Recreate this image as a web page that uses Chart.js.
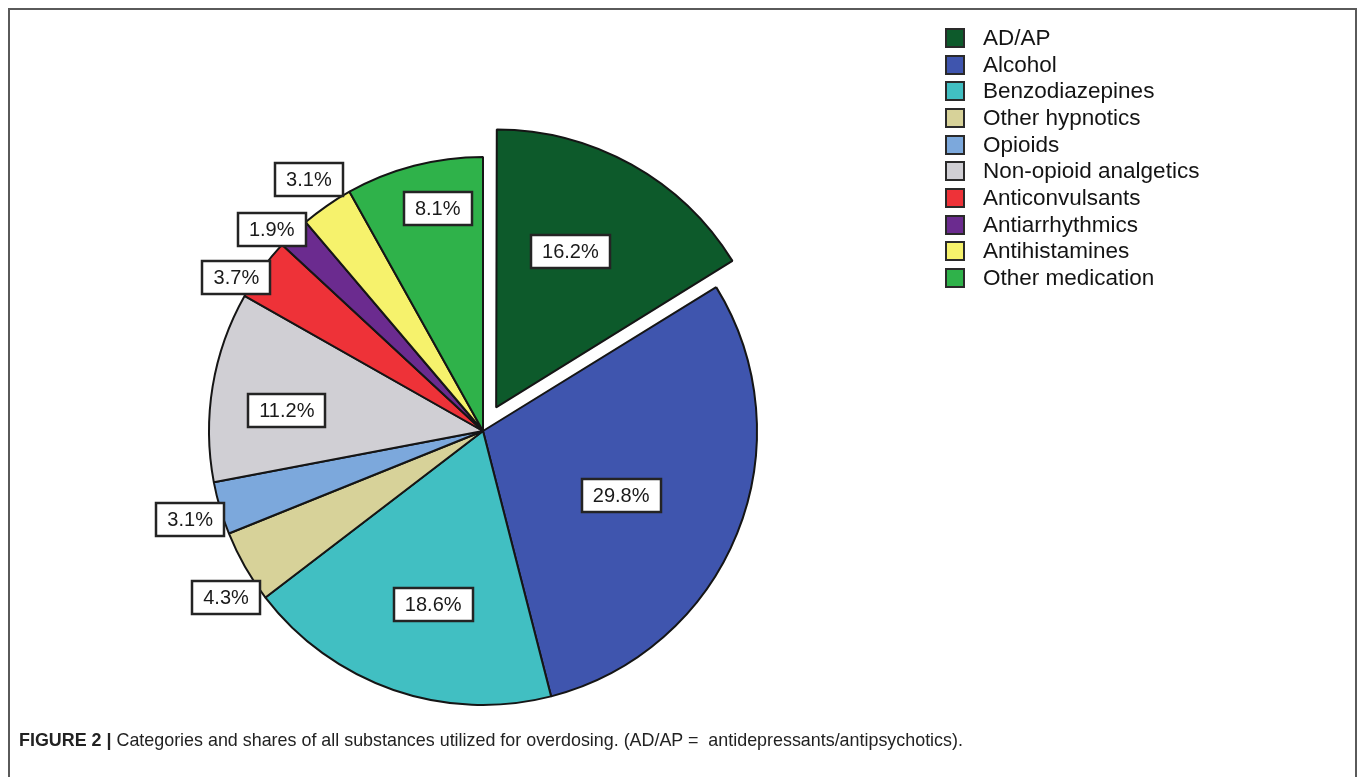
<!DOCTYPE html>
<html>
<head>
<meta charset="utf-8">
<title>Substances utilized for overdosing</title>
<script src="https://cdn.jsdelivr.net/npm/chart.js"></script>
<style>
  html, body { margin: 0; padding: 0; background: #fff; width: 1357px; height: 777px; overflow: hidden; }
  body { position: relative; font-family: "Liberation Sans", Arial, sans-serif; }
  .frame { position: absolute; left: 8px; top: 8px; width: 1349px; height: 800px;
           border: 2px solid #5a5a5a; box-sizing: border-box; }
  .pie-box { position: absolute; left: 0; top: 0; width: 966px; height: 777px; }
  .legend { position: absolute; left: 945px; top: 28px; }
  .legend .row { position: absolute; left: 0; height: 20px; white-space: nowrap; }
  .legend .sw { position: absolute; left: 0; top: 0; width: 20px; height: 20px;
                border: 2px solid #2a2a2a; box-sizing: border-box; }
  .legend .txt { position: absolute; left: 38px; top: -3px; font-size: 22.5px; line-height: 26px; color: #141414; }
  .caption { position: absolute; left: 19px; top: 730px; font-size: 17.9px; color: #222; white-space: nowrap; }
  .caption b { font-weight: bold; }
</style>
</head>
<body>
<div class="frame"></div>
<div class="pie-box"><canvas id="pie"></canvas></div>
<div class="legend" id="legend"></div>
<div class="caption"><b>FIGURE 2 |</b> Categories and shares of all substances utilized for overdosing. (AD/AP =&nbsp; antidepressants/antipsychotics).</div>

<script>
// substance categories and their share of all cases (%)
const categories = ['AD/AP', 'Alcohol', 'Benzodiazepines', 'Other hypnotics', 'Opioids',
  'Non-opioid analgetics', 'Anticonvulsants', 'Antiarrhythmics', 'Antihistamines', 'Other medication'];
const shares = [16.2, 29.8, 18.6, 4.3, 3.1, 11.2, 3.7, 1.9, 3.1, 8.1];

const colors = ['#0d5a2b', '#3f55ae', '#41bfc2', '#d7d299', '#7ca8dc',
  '#d0cfd4', '#ee3238', '#6b2b8f', '#f6f26c', '#2fb24a'];

// AD/AP slice is pulled out of the pie
const explodePx = [27, 0, 0, 0, 0, 0, 0, 0, 0, 0];

// where each value box sits: [fraction of radius, turn from slice middle in degrees]
const labelPlace = [[0.63, -3.7], [0.557, 3.2], [0.66, -3.1], [1.117, -3.2], [1.117, -0.5],
  [0.72, -3.3], [1.06, -4.3], [1.066, -2.6], [1.115, 0], [0.83, 3.1]];

// legend
const legend = document.getElementById('legend');
categories.forEach((name, i) => {
  const row = document.createElement('div');
  row.className = 'row';
  row.style.top = (i * 26.67) + 'px';
  row.innerHTML = '<span class="sw" style="background:' + colors[i] + '"></span><span class="txt">' + name + '</span>';
  legend.appendChild(row);
});

const boxLabels = {
  id: 'boxLabels',
  afterDatasetsDraw(chart) {
    const ctx = chart.ctx;
    const meta = chart.getDatasetMeta(0);
    ctx.save();
    ctx.font = '20px "Liberation Sans", Arial, sans-serif';
    ctx.textAlign = 'center';
    ctx.textBaseline = 'middle';
    meta.data.forEach((arc, i) => {
      const p = arc.getProps(['x', 'y', 'startAngle', 'endAngle', 'outerRadius'], true);
      const mid = (p.startAngle + p.endAngle) / 2;
      const a = mid + labelPlace[i][1] * Math.PI / 180;
      const r = p.outerRadius * labelPlace[i][0];
      const cx = p.x + Math.cos(mid) * explodePx[i] + Math.cos(a) * r;
      const cy = p.y + Math.sin(mid) * explodePx[i] + Math.sin(a) * r;
      const text = shares[i].toFixed(1) + '%';
      const w = Math.round(ctx.measureText(text).width + 24);
      const h = 35;
      const x0 = Math.round(cx - w / 2), y0 = Math.round(cy - h / 2);
      ctx.fillStyle = '#ffffff';
      ctx.fillRect(x0, y0, w, h);
      ctx.lineWidth = 2.5;
      ctx.strokeStyle = '#242424';
      ctx.strokeRect(x0 + 1, y0 + 1, w - 2, h - 2);
      ctx.fillStyle = '#1a1a1a';
      ctx.fillText(text, cx, cy + 1);
    });
    ctx.restore();
  }
};

new Chart(document.getElementById('pie'), {
  type: 'pie',
  data: {
    labels: categories,
    datasets: [{
      data: shares,
      backgroundColor: colors,
      borderColor: '#151515',
      borderWidth: 2,
      offset: explodePx.map(d => d * 4)
    }]
  },
  options: {
    responsive: true,
    maintainAspectRatio: false,
    animation: false,
    radius: 274,
    layout: { padding: { top: 85 } },
    plugins: {
      legend: { display: false },
      tooltip: { enabled: false }
    }
  },
  plugins: [boxLabels]
});
</script>
</body>
</html>
